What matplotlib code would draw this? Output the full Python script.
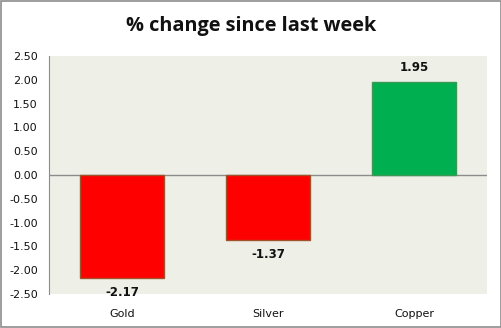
import matplotlib.pyplot as plt
from matplotlib.patches import Rectangle

metals = ["Gold", "Silver", "Copper"]
changes = [-2.17, -1.37, 1.95]
bar_colors = ["#FF0000", "#FF0000", "#00B050"]
edge_colors = ["#A0522D", "#A0522D", "#3A9A55"]
y_ticks = [2.5, 2.0, 1.5, 1.0, 0.5, 0.0, -0.5, -1.0, -1.5, -2.0, -2.5]

fig = plt.figure(figsize=(5.02, 3.28), dpi=100)
fig.patches.append(Rectangle((0.001, 0.002), 0.997, 0.995, transform=fig.transFigure,
                             fill=False, edgecolor="#8C8C8C", linewidth=1.2))
ax = fig.add_axes([0.0976, 0.1037, 0.8725, 0.7256])
ax.set_facecolor("#EEF0E8")

x = range(len(metals))
ax.bar(x, changes, width=0.57, color=bar_colors, edgecolor=edge_colors, linewidth=1, zorder=3)
ax.axhline(0, color="#8C8C8C", linewidth=1, zorder=2)

for xi, v in zip(x, changes):
    offset = 0.17 if v > 0 else -0.17
    ax.text(xi, v + offset, f"{v:.2f}", ha="center", va="bottom" if v > 0 else "top",
            fontsize=8.5, fontweight="bold", color="#111111", zorder=4)

ax.set_xlim(-0.5, 2.5)
ax.set_ylim(-2.5, 2.5)
ax.set_yticks(y_ticks)
ax.set_yticklabels([f"{t:.2f}" for t in y_ticks])
ax.set_xticks(list(x))
ax.set_xticklabels(metals)
ax.tick_params(axis="both", length=0, labelsize=8, colors="#111111")
ax.tick_params(axis="y", pad=8)
ax.tick_params(axis="x", pad=11)
for side in ["top", "right", "bottom"]:
    ax.spines[side].set_visible(False)
ax.spines["left"].set_color("#8C8C8C")

fig.text(0.5, 0.922, "% change since last week", ha="center", va="center",
         fontsize=14.3, fontweight="bold", family="Open Sans", color="#111111")

fig.savefig("out.png", dpi=100)
